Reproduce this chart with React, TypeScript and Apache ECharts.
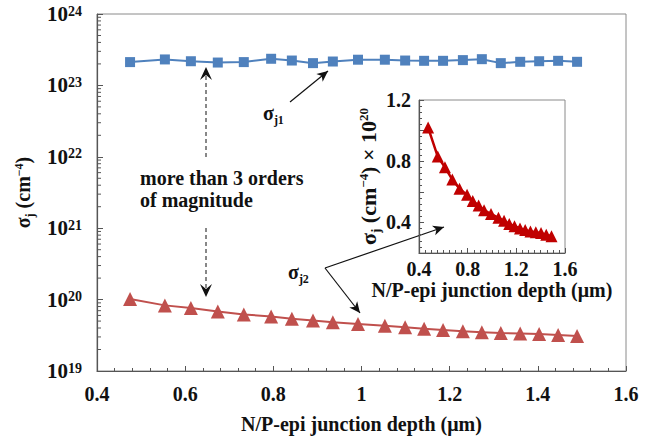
import React, { useEffect, useRef } from "react";
import * as echarts from "echarts";

// N/P-epi junction depth (µm)
const depth = [0.475, 0.554, 0.613, 0.674, 0.733, 0.795, 0.842, 0.89, 0.935, 0.992, 1.053, 1.099, 1.142, 1.185, 1.23, 1.273, 1.316, 1.36, 1.403, 1.446, 1.489];
// sigma_j1 in units of 1e23 cm^-4
const sigmaJ1_e23 = [2.12, 2.31, 2.18, 2.09, 2.12, 2.36, 2.23, 2.05, 2.16, 2.29, 2.29, 2.23, 2.21, 2.21, 2.26, 2.33, 2.05, 2.14, 2.18, 2.21, 2.14];
// sigma_j2 in units of 1e20 cm^-4
const sigmaJ2_e20 = [1.02, 0.83, 0.76, 0.68, 0.62, 0.58, 0.54, 0.51, 0.48, 0.455, 0.43, 0.41, 0.39, 0.375, 0.36, 0.35, 0.34, 0.335, 0.33, 0.32, 0.31];

const logDecades = [19, 20, 21, 22, 23];
const logMinorMultipliers = [2, 3, 4, 5, 6, 7, 8, 9];
const insetYLabels = [0.4, 0.8, 1.2];

const FONT = "'Liberation Serif', 'Times New Roman', serif";
const INK = "#111";
const AXIS = "#555";
const BORDER = "#8a8a8a";

type P = [number, number];
function arrowHead(tip: P, from: P, len: number, half: number, notch: number): P[] {
  const dx = tip[0] - from[0];
  const dy = tip[1] - from[1];
  const L = Math.hypot(dx, dy);
  const ux = dx / L, uy = dy / L;
  const px = -uy, py = ux;
  const bx = tip[0] - ux * len, by = tip[1] - uy * len;
  const nx = tip[0] - ux * (len - notch), ny = tip[1] - uy * (len - notch);
  return [[bx + px * half, by + py * half], tip, [bx - px * half, by - py * half], [nx, ny]];
}

export default function App() {
  const ref = useRef<HTMLDivElement>(null);
  useEffect(() => {
    const chart = echarts.init(ref.current!, null, { renderer: "svg" });
    const bold = { fontFamily: FONT, fontWeight: "bold" as const, color: INK };
    const richAxis = {
      b: { fontFamily: FONT, fontWeight: "bold", fontSize: 20, color: INK, lineHeight: 26 },
      sup: { fontFamily: FONT, fontWeight: "bold", fontSize: 12, color: INK, verticalAlign: "top", padding: [3, 0, 0, 0] },
      sub: { fontFamily: FONT, fontWeight: "bold", fontSize: 12, color: INK, verticalAlign: "bottom" },
    };
    const richInset = {
      b: { fontFamily: FONT, fontWeight: "bold", fontSize: 22, color: INK, lineHeight: 28 },
      sup: { fontFamily: FONT, fontWeight: "bold", fontSize: 13, color: INK, verticalAlign: "top", padding: [3, 0, 0, 0] },
      sub: { fontFamily: FONT, fontWeight: "bold", fontSize: 13, color: INK, verticalAlign: "bottom" },
    };
    const richLog = {
      b: { fontFamily: FONT, fontWeight: "bold", fontSize: 21, color: INK, lineHeight: 26 },
      sup: { fontFamily: FONT, fontWeight: "bold", fontSize: 14, color: INK, verticalAlign: "top", padding: [3, 0, 0, 0] },
    };
    const gRich = {
      b: { fontFamily: FONT, fontWeight: "bold", fontSize: 20, fill: INK, lineHeight: 26 },
      sub: { fontFamily: FONT, fontWeight: "bold", fontSize: 12, fill: INK, verticalAlign: "bottom" },
    };

    const minorLogTicks: number[][] = [];
    logDecades.forEach((e) => logMinorMultipliers.forEach((k) => minorLogTicks.push([0.4, k * Math.pow(10, e)])));

    const dashUpFrom: P = [206, 157], dashUpTip: P = [206, 67];
    const dashDnFrom: P = [206, 228], dashDnTip: P = [206, 297];
    const j1From: P = [290, 102], j1Tip: P = [328, 71];
    const j2Origin: P = [325, 268], j2TipInset: P = [444, 227], j2TipMain: P = [360, 313];

    const solidArrow = (from: P, tip: P) => [
      { type: "line", shape: { x1: from[0], y1: from[1], x2: tip[0], y2: tip[1] }, style: { stroke: INK, lineWidth: 1.2 } },
      { type: "polygon", shape: { points: arrowHead(tip, from, 11, 5, 3) }, style: { fill: INK } },
    ];

    chart.setOption({
      animation: false,
      backgroundColor: "#fff",
      grid: [
        { left: 97, top: 14, right: 34, bottom: 67, show: true, borderColor: BORDER, borderWidth: 1, backgroundColor: "transparent" },
        { left: 419, top: 100, right: 95, bottom: 186, show: true, borderColor: BORDER, borderWidth: 1, backgroundColor: "#fff" },
      ],
      xAxis: [
        {
          type: "value", gridIndex: 0, min: 0.4, max: 1.6, interval: 0.2,
          axisLine: { show: true, lineStyle: { color: AXIS, width: 1.2 } },
          axisTick: { show: true, inside: true, length: 5, lineStyle: { color: AXIS } },
          minorTick: { show: true, splitNumber: 5, length: 3, lineStyle: { color: AXIS } },
          splitLine: { show: false },
          axisLabel: { ...bold, fontSize: 20, margin: 13 },
          name: "N/P-epi junction depth (μm)", nameLocation: "middle", nameGap: 43,
          nameTextStyle: { ...bold, fontSize: 20 },
        },
        {
          type: "value", gridIndex: 1, min: 0.4, max: 1.6, interval: 0.4,
          axisLine: { show: true, lineStyle: { color: AXIS, width: 1.2 } },
          axisTick: { show: true, inside: true, length: 5, lineStyle: { color: AXIS } },
          minorTick: { show: true, splitNumber: 8, length: 3, lineStyle: { color: AXIS } },
          splitLine: { show: false },
          axisLabel: { ...bold, fontSize: 20, margin: 6 },
          name: "N/P-epi junction depth (μm)", nameLocation: "middle", nameGap: 26,
          nameTextStyle: { ...bold, fontSize: 20 },
        },
      ],
      yAxis: [
        {
          type: "log", gridIndex: 0, logBase: 10, min: 1e19, max: 1e24,
          axisLine: { show: true, lineStyle: { color: AXIS, width: 1.2 } },
          axisTick: { show: true, inside: true, length: 6, lineStyle: { color: AXIS } },
          splitLine: { show: false },
          axisLabel: {
            margin: 15,
            formatter: (v: number) => `{b|10}{sup|${Math.round(Math.log10(v))}}`,
            rich: richLog,
          },
          name: "{b|σ}{sub|j}{b| (cm}{sup|−4}{b|)}", nameLocation: "middle", nameGap: 60, nameRotate: 90,
          nameTextStyle: { rich: richAxis },
        },
        {
          type: "value", gridIndex: 1, min: 0.2, max: 1.2, interval: 0.2,
          axisLine: { show: true, lineStyle: { color: AXIS, width: 1.2 } },
          axisTick: { show: true, inside: true, length: 5, lineStyle: { color: AXIS } },
          minorTick: { show: true, splitNumber: 5, length: 3, lineStyle: { color: AXIS } },
          splitLine: { show: false },
          axisLabel: {
            ...bold, fontSize: 20, margin: 8,
            formatter: (v: number) => (insetYLabels.some((s) => Math.abs(s - v) < 1e-6) ? v.toFixed(1) : ""),
          },
          name: "{b|σ}{sub|j}{b| (cm}{sup|−4}{b|) × 10}{sup|20}", nameLocation: "middle", nameGap: 31, nameRotate: 90,
          nameTextStyle: { rich: richInset },
        },
      ],
      series: [
        {
          type: "line", xAxisIndex: 0, yAxisIndex: 0, name: "σj1",
          data: depth.map((d, i) => [d, sigmaJ1_e23[i] * 1e23]),
          symbol: "rect", symbolSize: 10,
          lineStyle: { color: "#4f81bd", width: 2 }, itemStyle: { color: "#4f81bd" },
        },
        {
          type: "line", xAxisIndex: 0, yAxisIndex: 0, name: "σj2",
          data: depth.map((d, i) => [d, sigmaJ2_e20[i] * 1e20]),
          symbol: "triangle", symbolSize: 14,
          lineStyle: { color: "#c0504d", width: 2 }, itemStyle: { color: "#c0504d" },
        },
        {
          type: "line", xAxisIndex: 1, yAxisIndex: 1, name: "σj2 inset",
          data: depth.map((d, i) => [d, sigmaJ2_e20[i]]),
          symbol: "triangle", symbolSize: 12,
          lineStyle: { color: "#c00000", width: 2.5 }, itemStyle: { color: "#c00000" },
        },
        {
          type: "custom", xAxisIndex: 0, yAxisIndex: 0, silent: true,
          data: minorLogTicks,
          renderItem: (_p: any, api: any) => {
            const pt = api.coord([api.value(0), api.value(1)]);
            return { type: "line", shape: { x1: pt[0], y1: pt[1], x2: pt[0] + 4, y2: pt[1] }, style: { stroke: AXIS, lineWidth: 1 } };
          },
        },
      ],
      graphic: [
        { type: "line", shape: { x1: dashUpFrom[0], y1: dashUpFrom[1], x2: dashUpTip[0], y2: dashUpTip[1] + 6 }, style: { stroke: INK, lineWidth: 1, lineDash: [4, 3] } },
        { type: "polygon", shape: { points: arrowHead(dashUpTip, dashUpFrom, 13, 6, 5) }, style: { fill: INK } },
        { type: "line", shape: { x1: dashDnFrom[0], y1: dashDnFrom[1], x2: dashDnTip[0], y2: dashDnTip[1] - 6 }, style: { stroke: INK, lineWidth: 1, lineDash: [4, 3] } },
        { type: "polygon", shape: { points: arrowHead(dashDnTip, dashDnFrom, 13, 6, 5) }, style: { fill: INK } },
        { type: "text", x: 140, y: 178, style: { text: "more than 3 orders", fontFamily: FONT, fontWeight: "bold", fontSize: 20, fill: INK, textVerticalAlign: "middle" } },
        { type: "text", x: 140, y: 200, style: { text: "of magnitude", fontFamily: FONT, fontWeight: "bold", fontSize: 20, fill: INK, textVerticalAlign: "middle" } },
        { type: "text", x: 263, y: 113, style: { text: "{b|σ}{sub|j1}", rich: gRich, textVerticalAlign: "middle" } },
        ...solidArrow(j1From, j1Tip),
        { type: "text", x: 288, y: 272, style: { text: "{b|σ}{sub|j2}", rich: gRich, textVerticalAlign: "middle" } },
        ...solidArrow(j2Origin, j2TipInset),
        ...solidArrow(j2Origin, j2TipMain),
      ],
    });
    return () => chart.dispose();
  }, []);
  return <div ref={ref} style={{ width: 660, height: 439, position: "absolute", left: 0, top: 0 }} />;
}
